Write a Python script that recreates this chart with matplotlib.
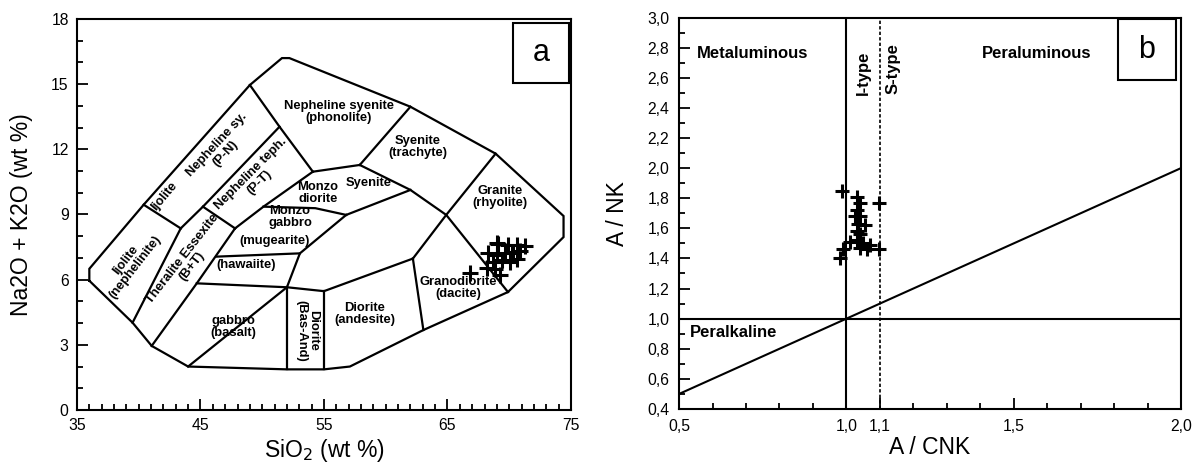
import matplotlib
matplotlib.use("Agg")
import matplotlib.pyplot as plt
from matplotlib.patches import Rectangle
from matplotlib.ticker import MultipleLocator, FixedLocator, FuncFormatter

plt.rcParams['font.family'] = ['Liberation Sans', 'DejaVu Sans']

# ---------------- TAS (plutonic) diagram: field boundaries ----------------
tas_outline = [(36.0, 5.95), (36.0, 6.5), (40.4, 9.45), (49.0, 14.96), (51.6, 16.2),
               (52.2, 16.2), (62.0, 13.96), (68.9, 11.8), (74.4, 8.93), (74.4, 7.96),
               (69.9, 5.43), (63.05, 3.68), (57.1, 2.0), (55.0, 1.87), (52.0, 1.87),
               (44.0, 2.0), (41.05, 2.95), (39.5, 4.02), (36.0, 5.95)]

tas_boundaries = [
    [(40.4, 9.45), (43.4, 8.36)],
    [(39.5, 4.02), (43.4, 8.36)],
    [(43.4, 8.36), (45.2, 9.36), (51.4, 13.04)],
    [(49.0, 14.96), (51.4, 13.04), (54.1, 10.97)],
    [(45.2, 9.36), (47.8, 8.36)],
    [(47.8, 8.36), (50.1, 9.36), (54.1, 10.97)],
    [(54.1, 10.97), (57.9, 11.28)],
    [(57.9, 11.28), (62.0, 13.96)],
    [(57.9, 11.28), (62.0, 10.13), (64.9, 8.98), (69.9, 5.43)],
    [(68.9, 11.8), (64.9, 8.98), (62.2, 6.97)],
    [(50.1, 9.36), (54.3, 9.29), (56.8, 8.98)],
    [(56.8, 8.98), (62.0, 10.13)],
    [(56.8, 8.98), (53.05, 7.21), (52.0, 5.65)],
    [(46.3, 7.06), (53.05, 7.21)],
    [(41.05, 2.95), (44.7, 5.83), (47.8, 8.36)],
    [(44.7, 5.83), (52.0, 5.65), (55.0, 5.47), (62.2, 6.97)],
    [(62.2, 6.97), (63.05, 3.68)],
    [(44.0, 2.0), (52.0, 5.65)],
    [(52.0, 1.87), (52.0, 5.65)],
    [(55.0, 1.87), (55.0, 5.47)],
]

# field names: (text, x, y, rotation)
tas_fields = [
    ("Nepheline syenite\n(phonolite)", 56.2, 13.7, 0),
    ("Syenite\n(trachyte)", 62.6, 12.1, 0),
    ("Monzo\ndiorite", 54.5, 9.97, 0),
    ("Syenite", 58.6, 10.44, 0),
    ("Monzo\ngabbro", 52.25, 8.9, 0),
    ("(mugearite)", 51.0, 7.79, 0),
    ("(hawaiite)", 48.7, 6.68, 0),
    ("gabbro\n(basalt)", 47.66, 3.8, 0),
    ("Diorite\n(andesite)", 58.3, 4.42, 0),
    ("Diorite\n(Bas-And)", 53.65, 3.64, -90),
    ("Granodiorite\n(dacite)", 65.9, 5.63, 0),
    ("Granite\n(rhyolite)", 69.25, 9.82, 0),
    ("Ijolite", 42.1, 9.82, 50),
    ("Nepheline sy.\n(P-N)", 46.65, 12.0, 47),
    ("Nepheline teph.\n(P-T)", 49.4, 10.67, 45),
    ("Ijolite\n(nephelinite)", 39.3, 6.75, 52),
    ("Theralite Essexite\n(B+T)", 43.9, 6.77, 52),
]

sio2_ticks = [35, 45, 55, 65, 75]

# samples: SiO2 and Na2O + K2O (wt %)
sio2 = [66.8, 69.0, 69.9, 70.6, 71.3, 68.3, 69.0, 69.65, 70.3, 70.9,
        68.7, 69.4, 70.05, 70.6, 68.2, 68.85, 69.25, 69.1, 70.2]
alkali = [6.32, 7.70, 7.60, 7.60, 7.55, 7.21, 7.14, 7.21, 7.29, 7.33,
          6.83, 6.91, 6.83, 6.94, 6.52, 6.48, 6.21, 7.63, 7.24]

# ---------------- Shand's index diagram ----------------
acnk = [0.986, 1.031, 1.041, 1.096, 1.031, 1.041, 1.026, 1.056, 1.036, 1.031,
        1.041, 1.011, 1.031, 1.051, 1.071, 1.041, 1.061, 1.096, 0.991, 0.981]
anK = [1.85, 1.81, 1.77, 1.77, 1.72, 1.68, 1.68, 1.62, 1.63, 1.58,
       1.56, 1.51, 1.52, 1.50, 1.49, 1.47, 1.46, 1.46, 1.46, 1.40]

acnk_ticks = [0.5, 1.0, 1.1, 1.5, 2.0]
ank_ticks = [0.4, 0.6, 0.8, 1.0, 1.2, 1.4, 1.6, 1.8, 2.0, 2.2, 2.4, 2.6, 2.8, 3.0]

fig = plt.figure(figsize=(12.01, 4.62), dpi=100)
axa = fig.add_axes([0.0641, 0.1126, 0.4113, 0.8463])
axb = fig.add_axes([0.5654, 0.1147, 0.4180, 0.8474])

# ----- panel a -----
axa.set_xlim(35, 75)
axa.set_ylim(0, 18)
axa.xaxis.set_major_locator(FixedLocator(sio2_ticks))
axa.xaxis.set_minor_locator(MultipleLocator(1))
axa.yaxis.set_major_locator(MultipleLocator(3))
axa.yaxis.set_minor_locator(MultipleLocator(1))

# ----- panel b -----
axb.set_xlim(0.5, 2.0)
axb.set_ylim(0.4, 3.0)
axb.xaxis.set_major_locator(FixedLocator(acnk_ticks))
axb.xaxis.set_minor_locator(MultipleLocator(0.1))
axb.yaxis.set_major_locator(FixedLocator(ank_ticks))
axb.yaxis.set_minor_locator(MultipleLocator(0.1))
comma = FuncFormatter(lambda v, p: f"{v:.1f}".replace('.', ','))
axb.xaxis.set_major_formatter(comma)
axb.yaxis.set_major_formatter(comma)

for ax in (axa, axb):
    for sp in ax.spines.values():
        sp.set_linewidth(1.5)
    ax.tick_params(which='both', direction='in', width=1.3, top=False, right=False)
    ax.tick_params(which='major', length=8, labelsize=11.3)
    ax.tick_params(which='minor', length=4.5)
axa.tick_params(axis='x', pad=6)
axa.tick_params(axis='y', pad=6)
axb.tick_params(axis='x', pad=7)
axb.tick_params(axis='y', pad=7)

lw = 1.6
xs, ys = zip(*tas_outline)
axa.plot(xs, ys, color='k', lw=lw, solid_joinstyle='miter')
for seg in tas_boundaries:
    xs, ys = zip(*seg)
    axa.plot(xs, ys, color='k', lw=lw)

for txt, x, y, rot in tas_fields:
    axa.text(x, y, txt, ha='center', va='center', rotation=rot, fontsize=9.4,
             fontweight='bold', linespacing=1.0, rotation_mode='anchor')

axa.plot(sio2, alkali, '+', ms=12, mew=2.2, color='k')

axa.set_xlabel("SiO$_2$ (wt %)", fontsize=16.5)
axa.set_ylabel("Na2O + K2O (wt %)", fontsize=16.5)
axa.xaxis.set_label_coords(0.5, -0.068)
axa.yaxis.set_label_coords(-0.089, 0.5)

axa.add_patch(Rectangle((0.883, 0.837), 0.114, 0.153, transform=axa.transAxes,
                        fill=False, lw=1.5, ec='k'))
axa.text(0.94, 0.913, "a", transform=axa.transAxes, ha='center', va='center', fontsize=22)

axb.axhline(1.0, color='k', lw=1.5)
axb.axvline(1.0, color='k', lw=1.5)
axb.axvline(1.1, color='k', lw=1.2, linestyle=(0, (2.0, 1.3)))
axb.plot([0.5, 2.0], [0.5, 2.0], color='k', lw=1.5)

axb.plot(acnk, anK, '+', ms=10.5, mew=2.2, color='k')

axb.text(0.553, 2.76, "Metaluminous", fontsize=12, fontweight='bold', ha='left', va='center')
axb.text(1.569, 2.76, "Peraluminous", fontsize=12, fontweight='bold', ha='center', va='center')
axb.text(0.533, 0.905, "Peralkaline", fontsize=12, fontweight='bold', ha='left', va='center')
axb.text(1.051, 2.63, "I-type", fontsize=12, fontweight='bold', rotation=90, ha='center', va='center')
axb.text(1.14, 2.66, "S-type", fontsize=12, fontweight='bold', rotation=90, ha='center', va='center')

axb.set_xlabel("A / CNK", fontsize=16.5)
axb.set_ylabel("A / NK", fontsize=16.5)
axb.xaxis.set_label_coords(0.5, -0.068)
axb.yaxis.set_label_coords(-0.10, 0.5)

axb.add_patch(Rectangle((0.874, 0.840), 0.115, 0.156, transform=axb.transAxes,
                        fill=False, lw=1.5, ec='k'))
axb.text(0.9315, 0.918, "b", transform=axb.transAxes, ha='center', va='center', fontsize=22)

fig.savefig("out.png", dpi=100)
